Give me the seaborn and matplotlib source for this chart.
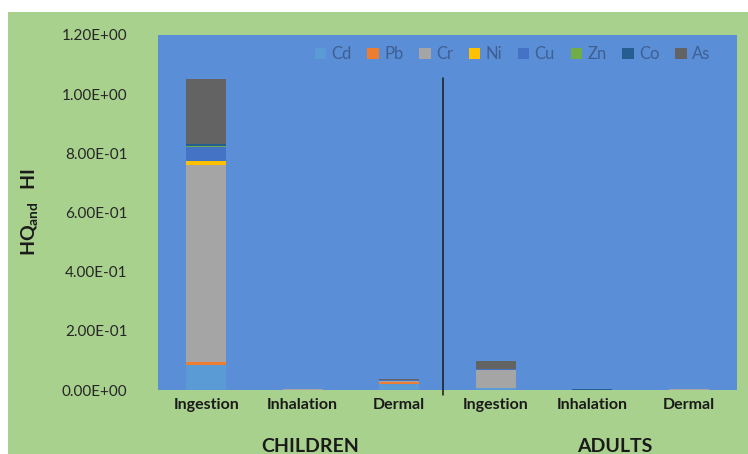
import numpy as np
import pandas as pd
import matplotlib
matplotlib.use("Agg")
import matplotlib.pyplot as plt
import matplotlib.patches as mpatches
import seaborn as sns

# Exposure route per bar, grouped by population
routes = ["Ingestion", "Inhalation", "Dermal", "Ingestion", "Inhalation", "Dermal"]
bar_ids = ["C-Ing", "C-Inh", "C-Der", "A-Ing", "A-Inh", "A-Der"]
groups = ["CHILDREN", "ADULTS"]

metals = ["Cd", "Pb", "Cr", "Ni", "Cu", "Zn", "Co", "As"]

# Hazard quotients per metal for each bar (children x3, adults x3)
hq_cd = [0.085, 0.0002, 0.020, 0.006, 0.0001, 0.0010]
hq_pb = [0.010, 0.0001, 0.008, 0.001, 0.0001, 0.0005]
hq_cr = [0.664, 0.0020, 0.003, 0.059, 0.0010, 0.0010]
hq_ni = [0.014, 0.0001, 0.0005, 0.003, 0.0001, 0.0001]
hq_cu = [0.047, 0.0001, 0.001, 0.001, 0.0001, 0.0001]
hq_zn = [0.005, 0.0000, 0.0002, 0.0003, 0.0000, 0.0000]
hq_co = [0.006, 0.0001, 0.0002, 0.0003, 0.0003, 0.0001]
hq_as = [0.220, 0.0005, 0.004, 0.026, 0.0005, 0.0005]

colors = ["#5B9BD5", "#ED7D31", "#A5A5A5", "#FFC000",
          "#4472C4", "#70AD47", "#255E91", "#636363"]

series = dict(zip(metals, [hq_cd, hq_pb, hq_cr, hq_ni, hq_cu, hq_zn, hq_co, hq_as]))
df = pd.DataFrame(series, index=bar_ids)
long_df = df.reset_index(names="bar").melt(id_vars="bar", var_name="metal", value_name="hq")

sns.set_theme(style="white")
plt.rcParams["font.family"] = ["Lato", "DejaVu Sans"]
plt.rcParams["mathtext.fontset"] = "custom"
plt.rcParams["mathtext.rm"] = "Lato"
plt.rcParams["mathtext.bf"] = "Lato:bold"

fig = plt.figure(figsize=(7.48, 4.54), dpi=100, facecolor="white")
# green chart area behind the plot
fig.patches.append(mpatches.Rectangle((8 / 748, 0), 740 / 748, 442 / 454,
                                      transform=fig.transFigure,
                                      facecolor="#A9D18E", edgecolor="none", zorder=-10))

ax = fig.add_axes([158 / 748, 64 / 454, 579 / 748, 355 / 454])
ax.set_facecolor("#5A8ED6")

bottom = np.zeros(len(bar_ids))
for metal, color in zip(metals, colors):
    sub = long_df[long_df["metal"] == metal].set_index("bar").loc[bar_ids].reset_index()
    sns.barplot(data=sub, x="bar", y="hq", order=bar_ids, color=color,
                bottom=bottom, width=0.41, ax=ax, label=metal,
                saturation=1, linewidth=0, errorbar=None)
    bottom = bottom + sub["hq"].to_numpy()

ax.set_xlim(-0.5, 5.5)
ax.set_ylim(0, 1.2)
ax.set_yticks(np.arange(0, 1.21, 0.2))
ax.set_yticklabels([f"{v:.2E}" for v in np.arange(0, 1.21, 0.2)],
                   fontsize=11, color="#262626")
ax.tick_params(axis="y", length=0, pad=22)
ax.set_xticks(range(len(bar_ids)))
ax.set_xticklabels(routes, fontsize=11.5, fontweight="bold", color="#1a1a1a")
ax.tick_params(axis="x", length=0, pad=6)
ax.set_xlabel("")
ax.set_ylabel(r"$\mathbf{HQ_{and}\ \ HI}$", fontsize=14, color="#1a1a1a", labelpad=16)
for s in ax.spines.values():
    s.set_visible(False)

# divider between the two populations
ax.axvline(2.45, ymin=-0.015, ymax=0.878, color="#1a1a1a", linewidth=1.1, clip_on=False)

# population labels
ax.text(1.08, -0.16, groups[0], transform=ax.get_xaxis_transform(),
        ha="center", va="center", fontsize=14, fontweight="bold", color="#1a1a1a")
ax.text(4.23, -0.16, groups[1], transform=ax.get_xaxis_transform(),
        ha="center", va="center", fontsize=14, fontweight="bold", color="#1a1a1a")

leg = ax.legend(loc="upper right", bbox_to_anchor=(0.98, 1.01), ncol=8, frameon=False,
                handlelength=0.7, handleheight=0.7, handletextpad=0.3,
                columnspacing=0.95, fontsize=12)
for t in leg.get_texts():
    t.set_color("#3F5F93")

fig.savefig("out.png", dpi=100, facecolor=fig.get_facecolor())
